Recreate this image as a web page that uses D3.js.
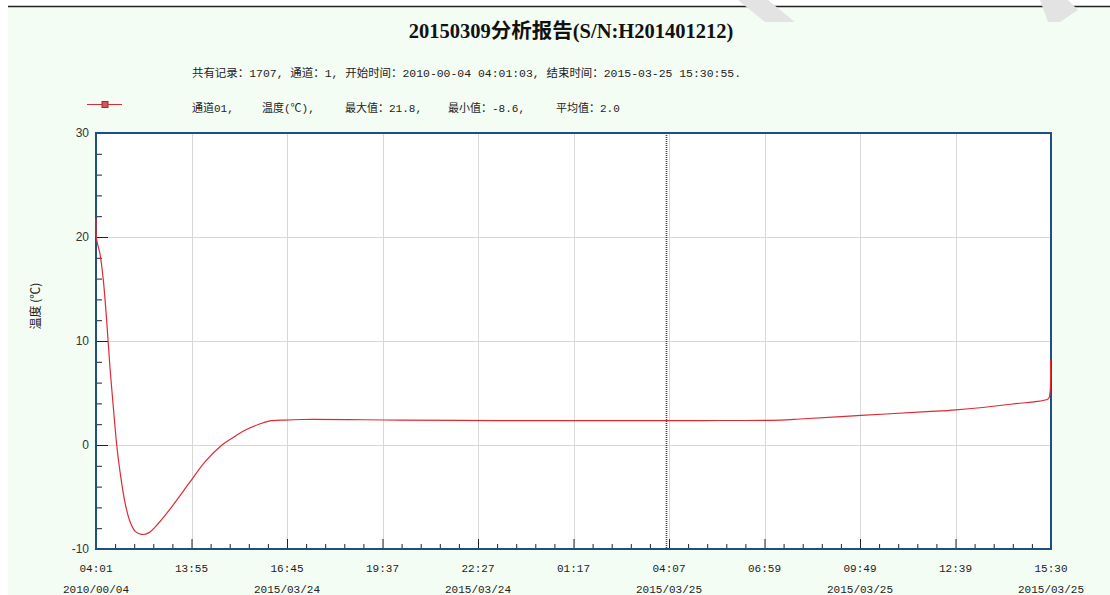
<!DOCTYPE html>
<html>
<head>
<meta charset="utf-8">
<script src="https://cdn.jsdelivr.net/npm/d3@7"></script>
<style>
  body { margin: 0; background: #fff; }
  svg { display: block; }
</style>
</head>
<body>
<div id="chart"></div>
<script>
// record number -> temperature
const recordIdx = [0, 1, 7, 13, 19, 25, 31, 37, 43, 52, 61, 70, 82, 94, 112, 136, 166, 195, 225, 243, 267, 291, 309, 338, 368, 543, 722, 900, 1079, 1222, 1258, 1367, 1484, 1536, 1638, 1700, 1703, 1705];
const tempValues = [21.8, 19.8, 18.4, 15.9, 12.0, 7.4, 3.6, 0.0, -2.6, -5.6, -7.4, -8.3, -8.6, -8.45, -7.5, -5.9, -3.7, -1.6, 0.0, 0.65, 1.45, 2.0, 2.3, 2.4, 2.45, 2.4, 2.35, 2.35, 2.35, 2.4, 2.5, 2.85, 3.2, 3.37, 3.94, 4.4, 4.6, 8.2];

const timeLabels = ['04:01', '13:55', '16:45', '19:37', '22:27', '01:17', '04:07', '06:59', '09:49', '12:39', '15:30'];
const dateLabels = ['2010/00/04', '', '2015/03/24', '', '2015/03/24', '', '2015/03/25', '', '2015/03/25', '', '2015/03/25'];
const yTicks = [-10, 0, 10, 20, 30];
const cursorRecord = 1018;

const totalRecords = 1707;
const titleText = '20150309分析报告(S/N:H201401212)';
const infoText = '共有记录：1707, 通道：1, 开始时间：2010-00-04 04:01:03, 结束时间：2015-03-25 15:30:55.';
const legendItems = ['通道01,', '温度(℃),', '最大值：21.8,', '最小值：-8.6,', '平均值：2.0'];
const legendX = [192, 262, 345, 448, 556];

const width = 1110, height = 595;
const plotLeft = 96, plotRight = 1051, plotTop = 133, plotBottom = 549;

const svg = d3.select('#chart').append('svg')
    .attr('width', width)
    .attr('height', height);

// page background
svg.append('rect')
    .attr('x', 8).attr('y', 6)
    .attr('width', width - 8).attr('height', height - 6)
    .attr('fill', '#f4fdf3');
svg.append('line')
    .attr('x1', 8).attr('x2', width)
    .attr('y1', 6.5).attr('y2', 6.5)
    .attr('stroke', '#222').attr('stroke-width', 1.5);

// faint watermark bands at the top
svg.append('g').attr('fill', '#e3e3e3')
  .selectAll('polygon')
  .data([[[738, 0], [768, 0], [795, 22], [765, 22]], [[1040, 0], [1068, 0], [1078, 10], [1060, 22], [1048, 22]]])
  .join('polygon')
    .attr('points', d => d.map(p => p.join(',')).join(' '));

const x = d3.scaleLinear().domain([0, totalRecords - 1]).range([plotLeft, plotRight]);
const y = d3.scaleLinear().domain([-10, 30]).range([plotBottom, plotTop]);

const majorX = d3.range(timeLabels.length).map(i => i * (totalRecords - 1) / (timeLabels.length - 1));
const minorX = [];
for (let i = 0; i < majorX.length - 1; i++) {
  for (let j = 1; j < 5; j++) minorX.push(majorX[i] + (majorX[i + 1] - majorX[i]) * j / 5);
}
const minorY = d3.range(-10, 30, 2).filter(v => v % 10 != 0);

// plot area
svg.append('rect')
    .attr('x', plotLeft).attr('y', plotTop)
    .attr('width', plotRight - plotLeft).attr('height', plotBottom - plotTop)
    .attr('fill', '#fff');

// grid
svg.append('g')
    .attr('stroke', '#d8d8d8')
    .attr('stroke-width', 1)
  .selectAll('line')
  .data(majorX.slice(1, -1))
  .join('line')
    .attr('x1', d => Math.round(x(d)) + 0.5).attr('x2', d => Math.round(x(d)) + 0.5)
    .attr('y1', plotTop).attr('y2', plotBottom);
svg.append('g')
    .attr('stroke', '#d8d8d8')
    .attr('stroke-width', 1)
  .selectAll('line')
  .data(yTicks.slice(1, -1))
  .join('line')
    .attr('x1', plotLeft).attr('x2', plotRight)
    .attr('y1', d => Math.round(y(d)) + 0.5).attr('y2', d => Math.round(y(d)) + 0.5);

// cursor line
svg.append('line')
    .attr('x1', Math.round(x(cursorRecord)) + 0.5).attr('x2', Math.round(x(cursorRecord)) + 0.5)
    .attr('y1', plotTop).attr('y2', plotBottom)
    .attr('stroke', '#444')
    .attr('stroke-width', 1.6)
    .attr('stroke-dasharray', '1,1');

// x axis ticks (pointing up into the plot)
const xAxis = svg.append('g')
    .attr('transform', `translate(0,${plotBottom})`)
    .call(d3.axisBottom(x).tickValues(majorX).tickSize(-10).tickFormat(''));
xAxis.select('.domain').remove();
xAxis.selectAll('line').attr('stroke', '#222');
const xMinor = svg.append('g')
    .attr('transform', `translate(0,${plotBottom})`)
    .call(d3.axisBottom(x).tickValues(minorX).tickSize(-5).tickFormat(''));
xMinor.select('.domain').remove();
xMinor.selectAll('line').attr('stroke', '#222');

// y axis ticks (pointing right into the plot)
const yAxis = svg.append('g')
    .attr('transform', `translate(${plotLeft},0)`)
    .call(d3.axisRight(y).tickValues(yTicks).tickSize(12).tickFormat(''));
yAxis.select('.domain').remove();
yAxis.selectAll('line').attr('stroke', '#222');
const yMinor = svg.append('g')
    .attr('transform', `translate(${plotLeft},0)`)
    .call(d3.axisRight(y).tickValues(minorY).tickSize(6).tickFormat(''));
yMinor.select('.domain').remove();
yMinor.selectAll('line').attr('stroke', '#222');

// frame
svg.append('rect')
    .attr('x', plotLeft).attr('y', plotTop)
    .attr('width', plotRight - plotLeft).attr('height', plotBottom - plotTop)
    .attr('fill', 'none')
    .attr('stroke', '#1d4f80')
    .attr('stroke-width', 2);

// temperature line (drawn over the frame, like the original)
const line = d3.line()
    .x((d, i) => x(recordIdx[i]))
    .y(d => y(d))
    .curve(d3.curveCatmullRom.alpha(0.5));

svg.append('path')
    .datum(tempValues)
    .attr('fill', 'none')
    .attr('stroke', '#dc2a34')
    .attr('stroke-width', 1.2)
    .attr('d', line);

// tick labels
svg.append('g')
    .attr('font-family', '"Liberation Sans", Arial, sans-serif')
    .attr('font-size', 12)
    .attr('fill', '#333')
    .attr('text-anchor', 'end')
  .selectAll('text')
  .data(yTicks)
  .join('text')
    .attr('x', plotLeft - 7)
    .attr('y', d => y(d) + 4)
    .text(d => d);

const monoFont = '"Liberation Mono", "DejaVu Sans Mono", monospace';
svg.append('g')
    .attr('font-family', monoFont)
    .attr('font-size', 11)
    .attr('fill', '#222')
    .attr('text-anchor', 'middle')
  .selectAll('text')
  .data(majorX)
  .join('text')
    .attr('x', d => x(d))
    .attr('y', 572)
    .text((d, i) => timeLabels[i]);
svg.append('g')
    .attr('font-family', monoFont)
    .attr('font-size', 11)
    .attr('fill', '#222')
    .attr('text-anchor', 'middle')
  .selectAll('text')
  .data(majorX)
  .join('text')
    .attr('x', d => x(d))
    .attr('y', 593)
    .text((d, i) => dateLabels[i]);

// y axis title
svg.append('text')
    .attr('transform', 'translate(40,306) rotate(-90)')
    .attr('text-anchor', 'middle')
    .attr('font-family', '"Noto Sans CJK SC", sans-serif')
    .attr('font-size', 12)
    .attr('fill', '#222')
    .text('温度 (℃)');

// title
svg.append('text')
    .attr('x', 571).attr('y', 38)
    .attr('text-anchor', 'middle')
    .attr('font-family', '"Liberation Serif", "Noto Sans CJK SC", serif')
    .attr('font-weight', 'bold')
    .attr('font-size', 20.5)
    .attr('fill', '#111')
    .text(titleText);

// info line
svg.append('text')
    .attr('x', 192).attr('y', 77)
    .attr('font-family', '"Liberation Mono", "Noto Sans CJK SC", monospace')
    .attr('font-size', 11)
    .attr('fill', '#222')
    .attr('textLength', 549)
    .attr('lengthAdjust', 'spacingAndGlyphs')
    .text(infoText);

// legend
svg.append('line')
    .attr('x1', 87).attr('x2', 122)
    .attr('y1', 104.5).attr('y2', 104.5)
    .attr('stroke', '#dc2a34').attr('stroke-width', 1.2);
svg.append('rect')
    .attr('x', 102).attr('y', 101.5)
    .attr('width', 6).attr('height', 6)
    .attr('fill', '#d0575d')
    .attr('stroke', '#b02030');
svg.append('g')
    .attr('font-family', '"Liberation Mono", "Noto Sans CJK SC", monospace')
    .attr('font-size', 11)
    .attr('fill', '#222')
  .selectAll('text')
  .data(legendItems)
  .join('text')
    .attr('x', (d, i) => legendX[i])
    .attr('y', 112)
    .text(d => d);
</script>
</body>
</html>
